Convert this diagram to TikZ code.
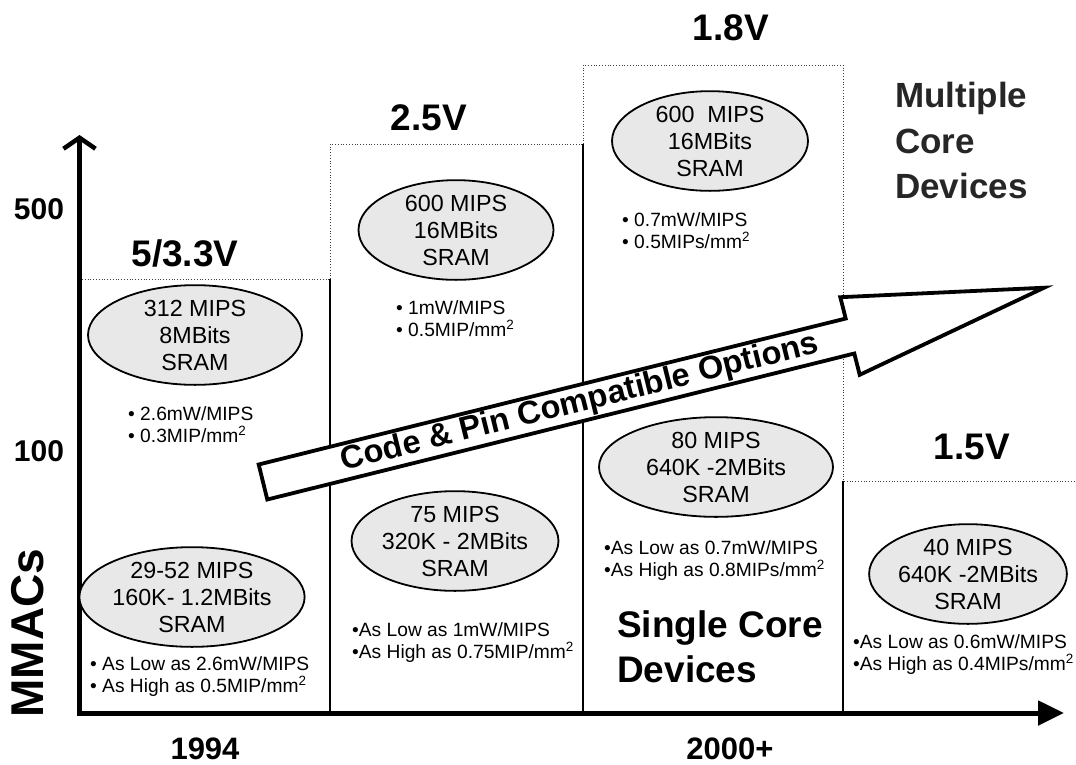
\documentclass[tikz,border=0pt]{standalone}
\usepackage{fontspec}
\setmainfont{Liberation Sans}
\usetikzlibrary{arrows.meta,shapes.geometric,calc}
\begin{document}
\begin{tikzpicture}[x=1pt,y=-1pt,
  chip/.style={ellipse,draw=black,line width=1.8pt,fill=black!9,inner sep=0pt,align=center,font=\fontsize{23.3}{27}\selectfont},
  bul/.style={anchor=north west,align=left,inner sep=0pt,font=\fontsize{19.2}{22.5}\selectfont},
  volt/.style={inner sep=0pt,font=\fontsize{37}{40}\selectfont\bfseries},
  axlab/.style={inner sep=0pt,font=\fontsize{30}{32}\selectfont\bfseries},
  yearlab/.style={inner sep=0pt,font=\fontsize{31}{33}\selectfont\bfseries},
  big/.style={anchor=north west,align=left,inner sep=0pt,font=\fontsize{37}{45}\selectfont\bfseries},
  dotline/.style={black!75,line width=0.8pt,dotted},
  solidline/.style={black,line width=1.1pt},
  axis/.style={line width=5pt},
]
\useasboundingbox (0,0) rectangle (1076,764);
% column outlines
\coordinate (c1tl) at (82,279);  \coordinate (c1tr) at (330,279); \coordinate (c1br) at (330,713);
\coordinate (c2tl) at (330,144); \coordinate (c2tr) at (583,144); \coordinate (c2br) at (583,713);
\coordinate (c3tl) at (583,65);  \coordinate (c3tr) at (843,65);  \coordinate (c3mr) at (843,481); \coordinate (c3br) at (843,713);
\coordinate (c4tr) at (1076,481);
\draw[dotline] (c1tl) -- (c1tr);
\draw[solidline] (c1tr) -- (c1br);
\draw[dotline] (c1tr) -- (c2tl) -- (c2tr);
\draw[solidline] (c2tr) -- (c2br);
\draw[dotline] (c2tr) -- (c3tl) -- (c3tr) -- (c3mr) -- (c4tr);
\draw[solidline] (c3mr) -- (c3br);
% axes
\coordinate (origin) at (79.5,713);
\coordinate (ytop) at (79.5,135);
\coordinate (xend) at (1064,713);
\draw[axis,-{Straight Barb[length=11pt,width=32pt,line width=4.5pt]}] (origin) -- (ytop);
\draw[axis,-{Triangle[length=26pt,width=24pt]}] ($(origin)+(-2.5,0)$) -- (xend);
% axis labels
\node[axlab] (l500) at (39,209) {500};
\node[axlab] (l100) at (39,451) {100};
\node[inner sep=0pt,rotate=90,font=\fontsize{46}{48}\selectfont\bfseries] (mmacs) at (28,633) {MMACs};
\node[yearlab] (y1994) at (205,749) {1994};
\node[yearlab] (y2000) at (730,749) {2000+};
% voltage labels
\node[volt] (v1) at (185,253) {5/3.3V};
\node[volt] (v2) at (429,118) {2.5V};
\node[volt] (v3) at (731,28) {1.8V};
\node[volt] (v4) at (972,447) {1.5V};
% ellipses
\node[chip,minimum width=214pt,minimum height=95pt] (e1) at (195,335) {312 MIPS\\8MBits\\SRAM};
\node[chip,minimum width=195pt,minimum height=96pt] (e2) at (456,230) {600 MIPS\\16MBits\\SRAM};
\node[chip,minimum width=196pt,minimum height=98pt] (e3) at (710,141) {600\ \ MIPS\\16MBits\\SRAM};
\node[chip,minimum width=220pt,minimum height=95pt] (e4) at (192,597) {29-52 MIPS\\160K- 1.2MBits\\SRAM};
\node[chip,minimum width=188pt,minimum height=98pt] (e5) at (455,541) {75 MIPS\\320K - 2MBits\\SRAM};
\node[chip,minimum width=234pt,minimum height=93pt] (e6) at (716,467) {80 MIPS\\640K -2MBits\\SRAM};
\node[chip,minimum width=194pt,minimum height=90pt] (e7) at (968,574) {40 MIPS\\640K -2MBits\\SRAM};
% bullets
\node[bul] (b1) at (128,406) {\textbullet\ 2.6mW/MIPS\\\textbullet\ 0.3MIP/mm\textsuperscript{2}};
\node[bul] (b2) at (396,300) {\textbullet\ 1mW/MIPS\\\textbullet\ 0.5MIP/mm\textsuperscript{2}};
\node[bul] (b3) at (622,212) {\textbullet\ 0.7mW/MIPS\\\textbullet\ 0.5MIPs/mm\textsuperscript{2}};
\node[bul] (b4) at (90,656) {\textbullet\ As Low as 2.6mW/MIPS\\\textbullet\ As High as 0.5MIP/mm\textsuperscript{2}};
\node[bul] (b5) at (352,622) {\textbullet As Low as 1mW/MIPS\\\textbullet As High as 0.75MIP/mm\textsuperscript{2}};
\node[bul] (b6) at (604,540) {\textbullet As Low as 0.7mW/MIPS\\\textbullet As High as 0.8MIPs/mm\textsuperscript{2}};
\node[bul] (b7) at (853,634) {\textbullet As Low as 0.6mW/MIPS\\\textbullet As High as 0.4MIPs/mm\textsuperscript{2}};
% device labels
\node[big] (single) at (617,610) {Single Core\\Devices};
\node[big,text=black!85,font=\fontsize{35}{45.5}\selectfont\bfseries] (multi) at (895,82) {Multiple\\Core\\Devices};
% big arrow
\coordinate (tailm) at (263,482);
\coordinate (basem) at (850,336);
\draw[line width=3.8pt,fill=white,line join=miter]
  (258.7,464.5) -- (845.7,318.5) -- (840.3,297.2) -- (1044.1,287.7) -- (859.7,374.8) -- (854.3,353.5) -- (267.3,499.5) -- cycle;
\path (tailm) -- (basem) node[pos=0.54,sloped,inner sep=0pt,font=\fontsize{32.5}{34}\selectfont\bfseries] (codepin) {Code \& Pin Compatible Options};
\end{tikzpicture}
\end{document}
